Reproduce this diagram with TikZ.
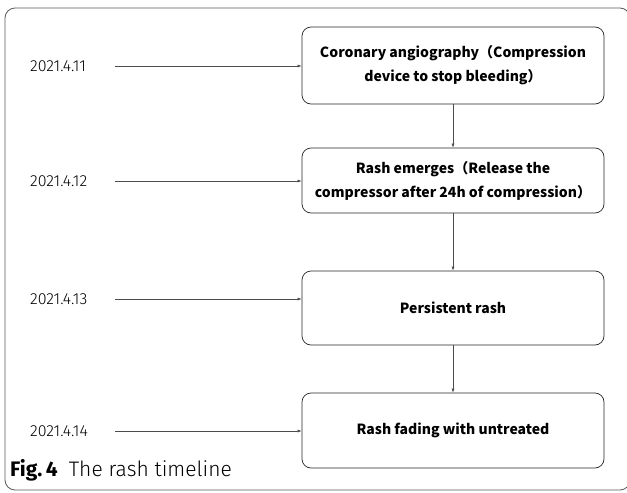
\documentclass[tikz,border=0pt]{standalone}
\usepackage{fontspec}
\setmainfont{Fira Sans}
\newfontfamily\cjk{Noto Sans CJK SC}
\newfontfamily\datefont{Fira Sans Light}
\usetikzlibrary{arrows.meta}
\begin{document}
\begin{tikzpicture}[x=1pt,y=-1pt,
  box/.style={draw=black!85,line width=0.7pt,rounded corners=9pt,minimum width=302pt,align=center,font=\cjk\bfseries\fontsize{14}{24}\selectfont,inner sep=0pt},
  datelbl/.style={anchor=west,font=\datefont\fontsize{16}{18}\selectfont,inner sep=0pt},
  conn/.style={draw=black!70,line width=0.5pt,-{Latex[length=4pt,width=3pt]}}]
\useasboundingbox (0,0) rectangle (627,493);
\draw[black!65,line width=0.8pt,rounded corners=10pt] (5,8) rectangle (630,490);
\node[box,minimum height=77pt] (b1) at (453,65.5) {Coronary angiography（Compression\\device to stop bleeding）};
\node[box,minimum height=65pt] (b2) at (453,180.5) {Rash emerges（Release the\\compressor after 24h of compression）};
\node[box,minimum height=74pt] (b3) at (453,308) {Persistent rash};
\node[box,minimum height=75pt] (b4) at (453,430.5) {Rash fading with untreated};
\node[datelbl] (d1) at (30,66) {2021.4.11};
\node[datelbl] (d2) at (30,181) {2021.4.12};
\node[datelbl] (d3) at (30,299) {2021.4.13};
\node[datelbl] (d4) at (30,431) {2021.4.14};
\coordinate (s1) at (115,66);
\coordinate (s2) at (115,181);
\coordinate (s3) at (115,299);
\coordinate (s4) at (115,431);
\draw[conn] (s1) -- (b1.west |- s1);
\draw[conn] (s2) -- (b2.west |- s2);
\draw[conn] (s3) -- (b3.west |- s3);
\draw[conn] (s4) -- (b4.west |- s4);
\draw[conn] (b1.south) -- (b2.north);
\draw[conn] (b2.south) -- (b3.north);
\draw[conn] (b3.south) -- (b4.north);
\node[anchor=base west,inner sep=0pt,font=\fontsize{21}{23}\selectfont] (cap) at (10,476) {\textbf{Fig.\,4}\ \ {\datefont The rash timeline}};
\end{tikzpicture}
\end{document}
